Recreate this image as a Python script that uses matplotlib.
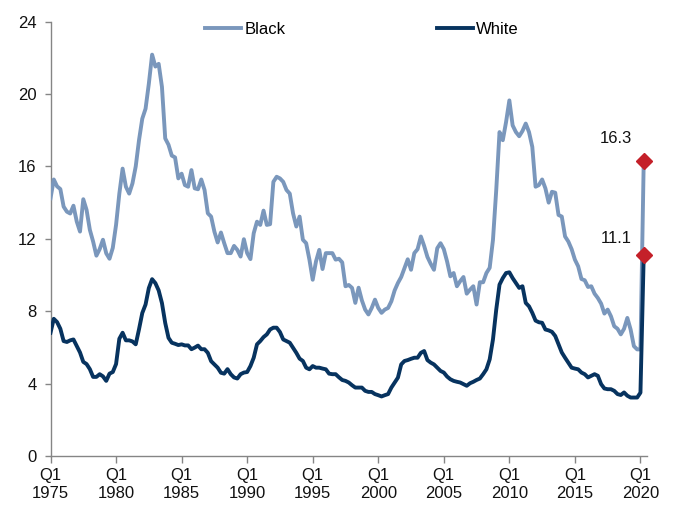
import numpy as np
import pandas as pd
import matplotlib
matplotlib.use("Agg")
import matplotlib.pyplot as plt

plt.rcParams["font.family"] = ["Liberation Sans", "DejaVu Sans"]
plt.rcParams["font.size"] = 12

# Quarterly unemployment rate (%), Q1 1975 - Q2 2020
quarters = pd.period_range("1975Q1", "2020Q2", freq="Q")

black_rate = [
    14.24, 15.28, 14.90, 14.75, 13.78, 13.50, 13.40, 13.83, 12.96, 12.40,
    14.19, 13.60, 12.50, 11.85, 11.07, 11.43, 11.95, 11.20, 10.90, 11.50,
    12.77, 14.50, 15.88, 14.88, 14.50, 15.06, 16.00, 17.45, 18.64, 19.19,
    20.57, 22.18, 21.52, 21.67, 20.40, 17.55, 17.20, 16.60, 16.50, 15.34,
    15.60, 14.97, 14.88, 15.80, 14.79, 14.74, 15.28, 14.70, 13.41, 13.23,
    12.40, 11.80, 12.35, 11.76, 11.21, 11.21, 11.61, 11.39, 11.02, 11.98,
    11.21, 10.88, 12.31, 12.95, 12.77, 13.56, 12.77, 12.81, 15.15, 15.43,
    15.34, 15.15, 14.70, 14.50, 13.41, 12.68, 13.23, 11.95, 11.76, 10.85,
    9.74, 10.75, 11.39, 10.33, 11.21, 11.21, 11.21, 10.85, 10.90, 10.70,
    9.38, 9.45, 9.29, 8.46, 9.30, 8.60, 8.09, 7.82, 8.18, 8.64,
    8.18, 7.91, 8.09, 8.18, 8.55, 9.15, 9.56, 9.89, 10.38, 10.87,
    10.29, 11.21, 11.43, 12.13, 11.61, 11.00, 10.62, 10.29, 11.48, 11.76,
    11.43, 10.75, 9.93, 10.11, 9.38, 9.66, 9.89, 8.97, 9.19, 9.38,
    8.37, 9.60, 9.60, 10.11, 10.40, 11.94, 14.70, 17.90, 17.45, 18.46,
    19.65, 18.27, 17.90, 17.67, 17.96, 18.37, 17.90, 17.08, 14.88, 14.97,
    15.28, 14.79, 14.00, 14.60, 14.55, 13.32, 13.23, 12.13, 11.85, 11.43,
    10.85, 10.48, 9.78, 9.71, 9.34, 9.38, 8.97, 8.73, 8.42, 7.87,
    8.09, 7.72, 7.17, 7.03, 6.72, 7.03, 7.63, 6.99, 6.07, 5.89,
    5.89, 16.3,
]

white_rate = [
    6.81, 7.58, 7.40, 7.03, 6.35, 6.30, 6.39, 6.44, 6.08, 5.72,
    5.20, 5.08, 4.80, 4.37, 4.37, 4.52, 4.40, 4.15, 4.55, 4.64,
    5.08, 6.48, 6.81, 6.39, 6.39, 6.33, 6.17, 7.00, 7.90, 8.37,
    9.28, 9.77, 9.55, 9.15, 8.45, 7.35, 6.53, 6.26, 6.20, 6.13,
    6.17, 6.11, 6.11, 5.90, 5.99, 6.10, 5.90, 5.90, 5.70, 5.24,
    5.06, 4.88, 4.60, 4.55, 4.80, 4.52, 4.34, 4.28, 4.52, 4.61,
    4.64, 4.97, 5.43, 6.17, 6.35, 6.57, 6.72, 6.99, 7.09, 7.09,
    6.85, 6.44, 6.35, 6.26, 5.98, 5.70, 5.38, 5.25, 4.88, 4.79,
    4.97, 4.88, 4.88, 4.83, 4.79, 4.55, 4.52, 4.52, 4.35, 4.20,
    4.15, 4.06, 3.91, 3.78, 3.78, 3.78, 3.60, 3.54, 3.54, 3.42,
    3.36, 3.29, 3.36, 3.42, 3.78, 4.06, 4.33, 5.06, 5.25, 5.30,
    5.37, 5.43, 5.43, 5.70, 5.80, 5.30, 5.16, 5.06, 4.88, 4.70,
    4.61, 4.39, 4.24, 4.15, 4.10, 4.06, 3.97, 3.88, 4.02, 4.10,
    4.20, 4.28, 4.52, 4.79, 5.34, 6.44, 8.09, 9.47, 9.83, 10.11,
    10.15, 9.83, 9.56, 9.29, 9.38, 8.46, 8.27, 7.91, 7.48, 7.39,
    7.36, 6.99, 6.94, 6.86, 6.63, 6.17, 5.72, 5.43, 5.16, 4.88,
    4.83, 4.79, 4.61, 4.52, 4.34, 4.43, 4.52, 4.43, 3.97, 3.73,
    3.69, 3.69, 3.60, 3.42, 3.37, 3.51, 3.33, 3.23, 3.23, 3.23,
    3.50, 11.1,
]

tick_years = [1975, 1980, 1985, 1990, 1995, 2000, 2005, 2010, 2015, 2020]
y_ticks = [0, 4, 8, 12, 16, 20, 24]

black_color = "#7A97BC"
white_color = "#07335F"
marker_color = "#C42029"
axis_gray = "#858585"

x = np.arange(len(quarters))

fig = plt.figure(figsize=(6.78, 5.08), dpi=100)
ax = fig.add_axes([0.0745, 0.1024, 0.8793, 0.8549])

ax.plot(x, black_rate, color=black_color, lw=2.8, label="Black",
        solid_joinstyle="round", zorder=3)
ax.plot(x, white_rate, color=white_color, lw=2.8, label="White",
        solid_joinstyle="round", zorder=3)

# Highlight the latest quarter
for series, dy in ((black_rate, 16), (white_rate, 12)):
    ax.plot(x[-1], series[-1], marker="D", ms=8.5, color=marker_color,
            mec=marker_color, zorder=5, clip_on=False)
    ax.annotate(f"{series[-1]:.1f}", (x[-1], series[-1]),
                xytext=(-20, dy), textcoords="offset points",
                ha="center", va="center", fontsize=12, color="#111111")

ax.set_xlim(0, 181.9)
ax.set_ylim(0, 24)

tick_pos = [quarters.get_loc(pd.Period(f"{yr}Q1", freq="Q")) for yr in tick_years]
ax.set_xticks(tick_pos)
ax.set_xticklabels([f"Q1\n{yr}" for yr in tick_years], linespacing=1.25)
ax.set_yticks(y_ticks)
ax.set_yticklabels([str(v) for v in y_ticks])

for side in ("top", "right"):
    ax.spines[side].set_visible(False)
for side in ("left", "bottom"):
    ax.spines[side].set_color(axis_gray)
    ax.spines[side].set_linewidth(1.0)

ax.tick_params(axis="x", direction="out", length=5, width=1,
               color=axis_gray, pad=4, labelsize=12, labelcolor="#111111")
ax.tick_params(axis="y", direction="out", length=4, width=1,
               color=axis_gray, pad=6, labelsize=12, labelcolor="#111111")

leg = ax.legend(loc="center left", bbox_to_anchor=(0.3024, 0.9423),
                bbox_transform=fig.transFigure, ncol=2, frameon=False,
                handlelength=2.15, handletextpad=0.2, columnspacing=9.1,
                borderpad=0, borderaxespad=0, fontsize=12)

fig.savefig("out.png", dpi=100)
